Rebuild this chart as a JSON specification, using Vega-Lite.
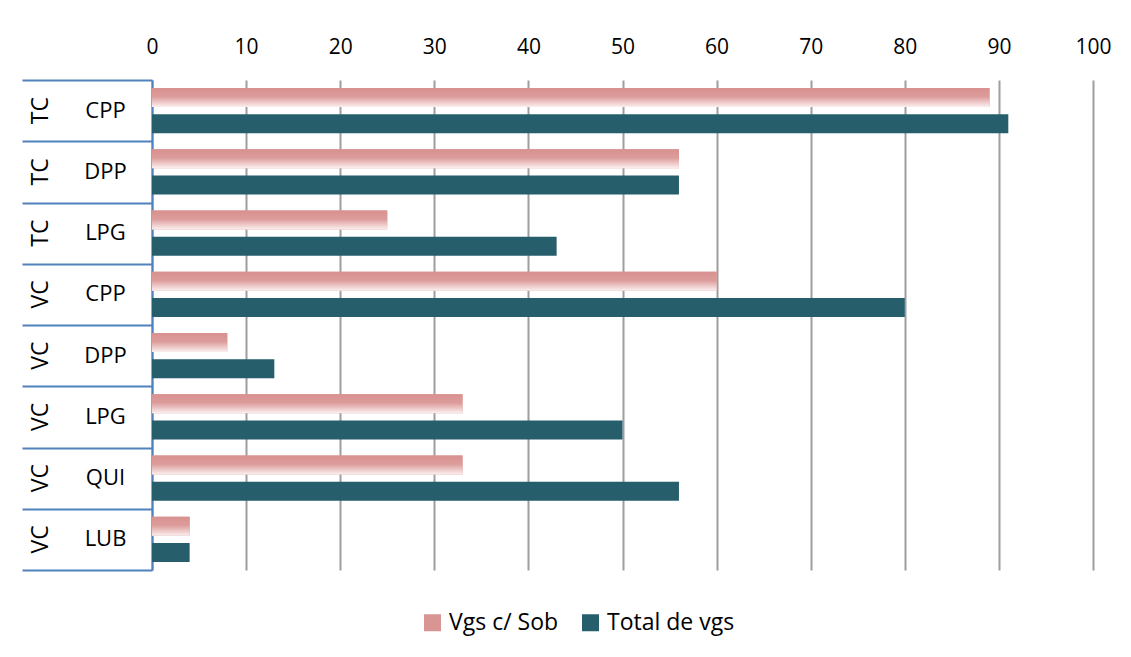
{
  "$schema": "https://vega.github.io/schema/vega-lite/v6.json",
  "width": 941,
  "height": 490,
  "autosize": {"type": "none"},
  "padding": {"left": 152, "top": 80, "right": 38, "bottom": 87},
  "background": "white",
  "config": {
    "font": "Open Sans",
    "view": {"stroke": null},
    "axis": {"labelColor": "black", "labelFont": "Open Sans"}
  },
  "data": {
    "values": [
      {"key": "TC|CPP", "series": "Vgs c/ Sob", "value": 89},
      {"key": "TC|CPP", "series": "Total de vgs", "value": 91},
      {"key": "TC|DPP", "series": "Vgs c/ Sob", "value": 56},
      {"key": "TC|DPP", "series": "Total de vgs", "value": 56},
      {"key": "TC|LPG", "series": "Vgs c/ Sob", "value": 25},
      {"key": "TC|LPG", "series": "Total de vgs", "value": 43},
      {"key": "VC|CPP", "series": "Vgs c/ Sob", "value": 60},
      {"key": "VC|CPP", "series": "Total de vgs", "value": 80},
      {"key": "VC|DPP", "series": "Vgs c/ Sob", "value": 8},
      {"key": "VC|DPP", "series": "Total de vgs", "value": 13},
      {"key": "VC|LPG", "series": "Vgs c/ Sob", "value": 33},
      {"key": "VC|LPG", "series": "Total de vgs", "value": 50},
      {"key": "VC|QUI", "series": "Vgs c/ Sob", "value": 33},
      {"key": "VC|QUI", "series": "Total de vgs", "value": 56},
      {"key": "VC|LUB", "series": "Vgs c/ Sob", "value": 4},
      {"key": "VC|LUB", "series": "Total de vgs", "value": 4}
    ]
  },
  "layer": [
    {
      "mark": {"type": "bar"},
      "encoding": {
        "x": {
          "field": "value", "type": "quantitative",
          "scale": {"domain": [0, 100], "nice": false},
          "axis": {
            "orient": "top", "values": [0,10,20,30,40,50,60,70,80,90,100],
            "title": null, "domain": false, "ticks": false,
            "labelFontSize": 21, "labelPadding": 23, "labelFlush": false,
            "grid": true, "gridColor": "#9e9e9e", "gridWidth": 2
          }
        },
        "y": {
          "field": "key", "type": "nominal", "sort": null,
          "scale": {"paddingInner": 0, "paddingOuter": 0},
          "axis": {
            "orient": "left", "title": null, "labels": false,
            "ticks": true, "tickSize": 130, "tickBand": "extent", "tickExtra": true,
            "tickColor": "#4F81BD", "tickWidth": 2,
            "domain": true, "domainColor": "#4F81BD", "domainWidth": 2
          }
        },
        "yOffset": {
          "field": "series", "type": "nominal",
          "scale": {"domain": ["Vgs c/ Sob", "Total de vgs"], "paddingInner": 0.27, "paddingOuter": 0.31}
        },
        "color": {
          "field": "series", "type": "nominal",
          "scale": {"domain": ["Vgs c/ Sob", "Total de vgs"], "range": ["#D99594", "#265E6B"]},
          "legend": {
            "orient": "none", "legendX": 269, "legendY": 531,
            "direction": "horizontal", "title": null,
            "symbolType": "square", "symbolSize": 289, "symbolStrokeWidth": 0,
            "labelFontSize": 23, "labelColor": "black", "labelFont": "Open Sans",
            "columnPadding": 20, "labelOffset": 5
          }
        }
      }
    },
    {
      "transform": [{"filter": "datum.series === 'Vgs c/ Sob'"}],
      "mark": {
        "type": "bar",
        "color": {
          "gradient": "linear", "x1": 0, "y1": 0, "x2": 0, "y2": 1,
          "stops": [
            {"offset": 0, "color": "#D8918F"},
            {"offset": 0.45, "color": "#DC9C9B"},
            {"offset": 1, "color": "#FCF0F0"}
          ]
        }
      },
      "encoding": {
        "x": {
          "field": "value", "type": "quantitative",
          "axis": {
            "orient": "top", "values": [0,10,20,30,40,50,60,70,80,90,100],
            "title": null, "domain": false, "ticks": false,
            "labelFontSize": 21, "labelPadding": 23, "labelFlush": false,
            "grid": true, "gridColor": "#9e9e9e", "gridWidth": 2
          }
        },
        "y": {
          "field": "key", "type": "nominal", "sort": null,
          "scale": {"domain": ["TC|CPP","TC|DPP","TC|LPG","VC|CPP","VC|DPP","VC|LPG","VC|QUI","VC|LUB"], "paddingInner": 0, "paddingOuter": 0},
          "axis": {
            "orient": "left", "title": null, "ticks": false, "tickSize": 0, "domain": false,
            "labelExpr": "split(datum.value, '|')[1]",
            "labelAlign": "center", "labelBaseline": "middle",
            "labelPadding": 47, "labelFontSize": 22
          }
        },
        "yOffset": {
          "field": "series", "type": "nominal",
          "scale": {"domain": ["Vgs c/ Sob", "Total de vgs"], "paddingInner": 0.27, "paddingOuter": 0.31}
        }
      }
    },
    {
      "mark": {"type": "bar", "opacity": 0},
      "encoding": {
        "x": {
          "field": "value", "type": "quantitative",
          "axis": {
            "orient": "top", "values": [0,10,20,30,40,50,60,70,80,90,100],
            "title": null, "domain": false, "ticks": false,
            "labelFontSize": 21, "labelPadding": 23, "labelFlush": false,
            "grid": true, "gridColor": "#9e9e9e", "gridWidth": 2
          }
        },
        "y": {
          "field": "key", "type": "nominal", "sort": null,
          "scale": {"paddingInner": 0, "paddingOuter": 0},
          "axis": {
            "orient": "left", "title": null, "ticks": false, "tickSize": 0, "domain": false,
            "labelExpr": "split(datum.value, '|')[0]",
            "labelAngle": -90, "labelAlign": "center", "labelBaseline": "middle",
            "labelPadding": 112, "labelFontSize": 23
          }
        }
      }
    }
  ],
  "resolve": {"scale": {"y": "independent", "yOffset": "shared"}}
}
